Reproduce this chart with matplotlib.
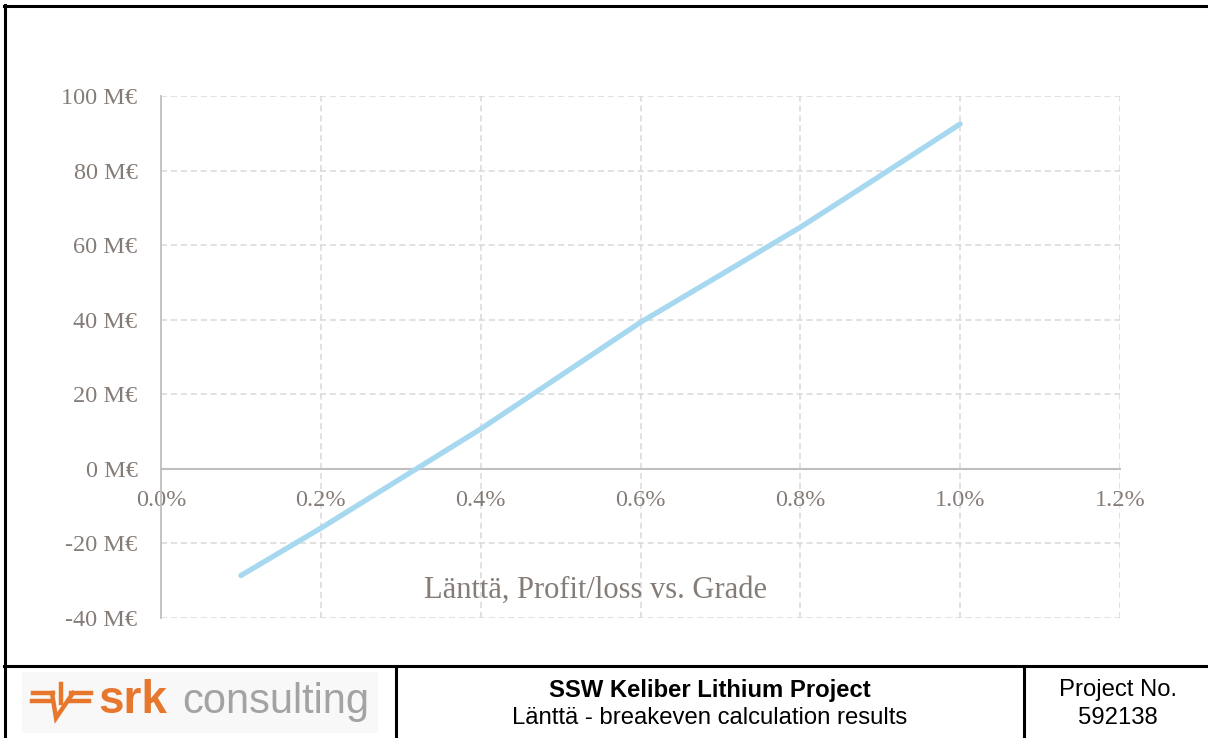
import matplotlib
matplotlib.use("Agg")
import matplotlib.pyplot as plt
from matplotlib.lines import Line2D
from matplotlib.patches import Rectangle

# === Data ===
grade = [0.1, 0.2, 0.3, 0.4, 0.5, 0.6, 0.7, 0.8, 0.9, 1.0]           # %
profit = [-28.6, -15.9, -2.6, 10.7, 25.0, 39.3, 52.0, 64.8, 78.6, 92.5]  # M EUR
x_ticks = [0.0, 0.2, 0.4, 0.6, 0.8, 1.0, 1.2]
y_ticks = [-40, -20, 0, 20, 40, 60, 80, 100]

chart_title = "Länttä, Profit/loss vs. Grade"
footer_title = "SSW Keliber Lithium Project"
footer_sub = "Länttä - breakeven calculation results"
project_lines = ["Project No.", "592138"]

# === Style ===
W, H = 1208, 738
LINE_COL = "#A6D8F0"
GRID_COL = "#D9D9D9"
AXIS_COL = "#BFBFBF"
TEXT_COL = "#857C77"
ORANGE = "#E8772E"
SERIF = ["Liberation Serif", "DejaVu Serif"]
SANS = ["Liberation Sans", "DejaVu Sans"]


def fx(x):
    return x / W


def fy(y):
    return 1 - y / H


fig = plt.figure(figsize=(W / 100, H / 100), dpi=100)
fig.patch.set_facecolor("white")

# === Chart area ===
ax = fig.add_axes([fx(161), fy(618), fx(1120) - fx(161), fy(96) - fy(618)])
ax.plot(grade, profit, color=LINE_COL, lw=3.8, solid_capstyle="round", zorder=3)

ax.set_xlim(0, 1.2)
ax.set_ylim(-40, 100)
ax.set_xticks(x_ticks)
ax.set_yticks(y_ticks)
ax.set_xticklabels([f"{v:.1f}%" for v in x_ticks])
ax.set_yticklabels([f"{v} M€" for v in y_ticks])

ax.grid(True, color=GRID_COL, ls=(0, (4, 2.5)), lw=1.1, zorder=0)
for side in ["top", "right"]:
    ax.spines[side].set_visible(False)
ax.spines["left"].set_color(AXIS_COL)
ax.spines["left"].set_linewidth(1.3)
ax.spines["bottom"].set_position(("data", 0))
ax.spines["bottom"].set_color(AXIS_COL)
ax.spines["bottom"].set_linewidth(1.5)
ax.tick_params(axis="both", length=0, colors=TEXT_COL, labelsize=17.5)
ax.tick_params(axis="x", pad=15)
ax.tick_params(axis="y", pad=17)
for lab in ax.get_xticklabels() + ax.get_yticklabels():
    lab.set_family(SERIF)

fig.text(fx(596), fy(590), chart_title, ha="center", va="center",
         fontsize=22, color=TEXT_COL, family=SERIF)

# === Frame / title block ===
def hline(y, x0, x1, lw=2.2):
    fig.add_artist(Line2D([fx(x0), fx(x1)], [fy(y), fy(y)], color="black", lw=lw))


def vline(x, y0, y1, lw=2.2):
    fig.add_artist(Line2D([fx(x), fx(x)], [fy(y0), fy(y1)], color="black", lw=lw))


hline(6, 4, W)
vline(5, 5, H)
hline(666, 4, W)
vline(396, 666, H)
vline(1024, 666, H)

fig.text(fx(710), fy(690), footer_title, ha="center", va="center",
         fontsize=17.2, fontweight="bold", family=SANS)
fig.text(fx(710), fy(718), footer_sub, ha="center", va="center",
         fontsize=17.2, family=SANS)
fig.text(fx(1118), fy(690), project_lines[0], ha="center", va="center",
         fontsize=17.2, family=SANS)
fig.text(fx(1118), fy(718), project_lines[1], ha="center", va="center",
         fontsize=17.2, family=SANS)

# === SRK logo ===
fig.add_artist(Rectangle((fx(22), fy(733)), fx(378) - fx(22), fy(672) - fy(733),
                         transform=fig.transFigure, color="#F8F8F8", lw=0))
logo_lines = [
    ([33, 53], [693, 693]), ([32, 51], [701, 701]),
    ([71, 91], [693, 693]), ([69, 89], [701, 701]),
    ([52, 56, 73], [693, 718, 693]),
    ([61, 61], [684, 703]),
]
for xs, ys in logo_lines:
    fig.add_artist(Line2D([fx(v) for v in xs], [fy(v) for v in ys],
                          color=ORANGE, lw=3.2, solid_joinstyle="miter"))
fig.text(fx(98), fy(713), "srk", ha="left", va="baseline", fontsize=33,
         fontweight="heavy", color=ORANGE, family=SANS)
fig.text(fx(182), fy(713), "consulting", ha="left", va="baseline", fontsize=30,
         color="#A3A3A3", family=SANS)

fig.savefig("out.png", dpi=100)
